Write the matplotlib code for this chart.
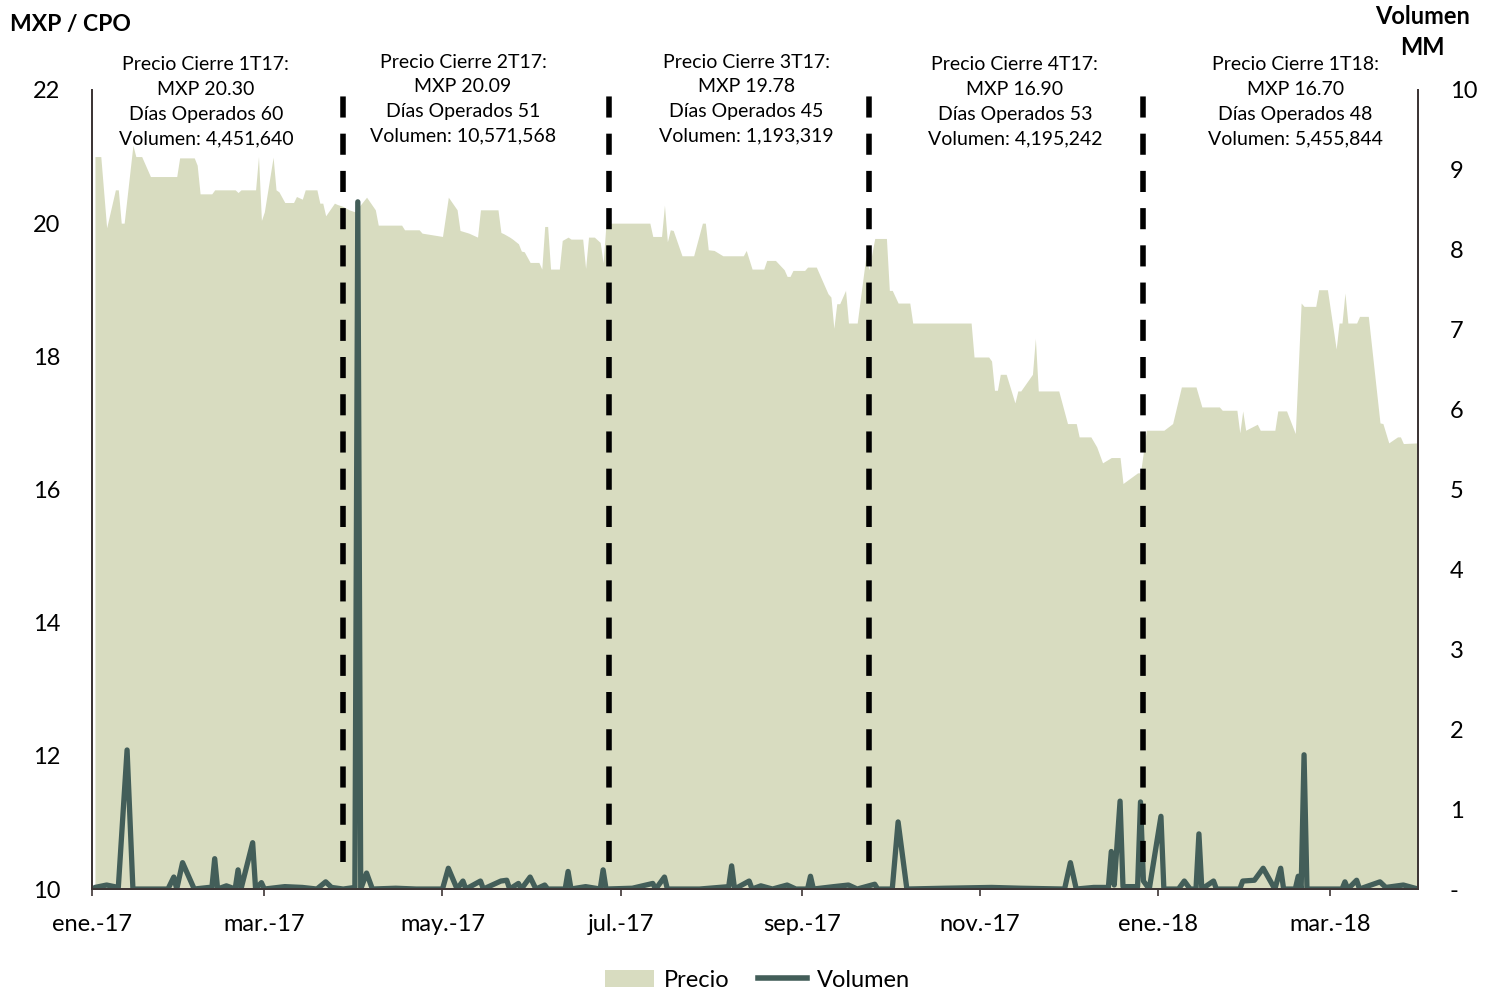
import numpy as np
import pandas as pd
import matplotlib
matplotlib.use("Agg")
import matplotlib.pyplot as plt
from matplotlib.patches import Patch
from matplotlib.lines import Line2D

plt.rcParams['font.family'] = ['Lato', 'DejaVu Sans']

# precio de cierre (MXP / CPO), vertices
price_dates = [
    '2017-01-02', '2017-01-04', '2017-01-06', '2017-01-09', '2017-01-10', '2017-01-11', '2017-01-12',
    '2017-01-15', '2017-01-16', '2017-01-18', '2017-01-21', '2017-01-30', '2017-01-31', '2017-02-05',
    '2017-02-06', '2017-02-07', '2017-02-11', '2017-02-12', '2017-02-19', '2017-02-20', '2017-02-21',
    '2017-02-26', '2017-02-27', '2017-02-28', '2017-03-01', '2017-03-04', '2017-03-05', '2017-03-06',
    '2017-03-08', '2017-03-11', '2017-03-12', '2017-03-14', '2017-03-15', '2017-03-19', '2017-03-20',
    '2017-03-21', '2017-03-22', '2017-03-25', '2017-03-26', '2017-03-28', '2017-03-30', '2017-04-01',
    '2017-04-05', '2017-04-08', '2017-04-09', '2017-04-17', '2017-04-18', '2017-04-23', '2017-04-24',
    '2017-05-01', '2017-05-03', '2017-05-06', '2017-05-07', '2017-05-10', '2017-05-13', '2017-05-14',
    '2017-05-20', '2017-05-21', '2017-05-22', '2017-05-24', '2017-05-25', '2017-05-27', '2017-05-28',
    '2017-05-29', '2017-05-31', '2017-06-03', '2017-06-04', '2017-06-05', '2017-06-06', '2017-06-07',
    '2017-06-10', '2017-06-11', '2017-06-13', '2017-06-14', '2017-06-18', '2017-06-19', '2017-06-20',
    '2017-06-22', '2017-06-24', '2017-06-25', '2017-06-26', '2017-07-11', '2017-07-12', '2017-07-15',
    '2017-07-16', '2017-07-17', '2017-07-18', '2017-07-19', '2017-07-22', '2017-07-26', '2017-07-29',
    '2017-07-30', '2017-07-31', '2017-08-02', '2017-08-05', '2017-08-12', '2017-08-13', '2017-08-15',
    '2017-08-19', '2017-08-20', '2017-08-23', '2017-08-26', '2017-08-27', '2017-08-28', '2017-08-29',
    '2017-09-02', '2017-09-03', '2017-09-06', '2017-09-10', '2017-09-11', '2017-09-12', '2017-09-13',
    '2017-09-14', '2017-09-16', '2017-09-17', '2017-09-20', '2017-09-23', '2017-09-24', '2017-09-26',
    '2017-09-30', '2017-10-01', '2017-10-02', '2017-10-04', '2017-10-08', '2017-10-09', '2017-10-29',
    '2017-10-30', '2017-11-04', '2017-11-05', '2017-11-06', '2017-11-07', '2017-11-08', '2017-11-10',
    '2017-11-13', '2017-11-14', '2017-11-15', '2017-11-19', '2017-11-20', '2017-11-21', '2017-11-28',
    '2017-12-01', '2017-12-04', '2017-12-05', '2017-12-09', '2017-12-11', '2017-12-13', '2017-12-16',
    '2017-12-19', '2017-12-20', '2017-12-25', '2017-12-26', '2017-12-28', '2018-01-03', '2018-01-06',
    '2018-01-09', '2018-01-14', '2018-01-16', '2018-01-22', '2018-01-23', '2018-01-28', '2018-01-29',
    '2018-01-30', '2018-01-31', '2018-02-04', '2018-02-05', '2018-02-10', '2018-02-11', '2018-02-14',
    '2018-02-17', '2018-02-19', '2018-02-20', '2018-02-24', '2018-02-25', '2018-02-28', '2018-03-03',
    '2018-03-04', '2018-03-05', '2018-03-06', '2018-03-07', '2018-03-10', '2018-03-11', '2018-03-14',
    '2018-03-18', '2018-03-19', '2018-03-21', '2018-03-24', '2018-03-25', '2018-03-26', '2018-03-31',
]
price_values = [
    21.00, 21.00, 19.93, 20.50, 20.50, 20.00, 20.00,
    21.17, 21.00, 21.00, 20.70, 20.70, 20.98, 20.98,
    20.87, 20.44, 20.44, 20.50, 20.50, 20.46, 20.50,
    20.50, 21.00, 20.04, 20.17, 20.99, 20.50, 20.47,
    20.31, 20.31, 20.40, 20.36, 20.50, 20.50, 20.30,
    20.30, 20.11, 20.30, 20.28, 20.25, 20.20, 20.17,
    20.39, 20.20, 19.97, 19.97, 19.90, 19.90, 19.85,
    19.80, 20.39, 20.20, 19.89, 19.85, 19.79, 20.20,
    20.20, 19.86, 19.84, 19.79, 19.76, 19.69, 19.58,
    19.57, 19.41, 19.41, 19.31, 19.95, 19.95, 19.31,
    19.31, 19.74, 19.79, 19.76, 19.76, 19.32, 19.79,
    19.79, 19.71, 19.40, 20.00, 20.00, 19.80, 19.80,
    20.27, 19.72, 19.90, 19.89, 19.51, 19.51, 20.00,
    20.00, 19.60, 19.59, 19.51, 19.51, 19.59, 19.31,
    19.31, 19.44, 19.44, 19.30, 19.20, 19.20, 19.29,
    19.29, 19.34, 19.34, 18.94, 18.89, 18.42, 18.79,
    18.79, 18.99, 18.50, 18.50, 19.51, 19.30, 19.77,
    19.77, 18.99, 18.99, 18.80, 18.80, 18.50, 18.50,
    17.99, 17.99, 17.93, 17.49, 17.49, 17.73, 17.73,
    17.30, 17.48, 17.48, 17.73, 18.27, 17.48, 17.48,
    16.99, 16.99, 16.79, 16.79, 16.64, 16.40, 16.48,
    16.48, 16.09, 16.25, 16.25, 16.89, 16.89, 16.99,
    17.54, 17.54, 17.24, 17.24, 17.19, 17.19, 16.85,
    17.18, 16.89, 16.98, 16.89, 16.89, 17.18, 17.18,
    16.84, 18.80, 18.75, 18.75, 19.00, 19.00, 18.11,
    18.50, 18.50, 18.95, 18.50, 18.50, 18.60, 18.60,
    17.00, 16.99, 16.70, 16.79, 16.79, 16.69, 16.70,
]

# volumen operado (millones de CPOs)
vol_dates = [
    '2017-01-02', '2017-01-06', '2017-01-10', '2017-01-13', '2017-01-15', '2017-01-27', '2017-01-29',
    '2017-01-30', '2017-02-01', '2017-02-05', '2017-02-10', '2017-02-11', '2017-02-12', '2017-02-13',
    '2017-02-16', '2017-02-19', '2017-02-20', '2017-02-21', '2017-02-25', '2017-02-26', '2017-02-28',
    '2017-03-01', '2017-03-08', '2017-03-14', '2017-03-19', '2017-03-22', '2017-03-24', '2017-03-28',
    '2017-04-01', '2017-04-02', '2017-04-03', '2017-04-05', '2017-04-07', '2017-04-15', '2017-04-22',
    '2017-05-01', '2017-05-03', '2017-05-06', '2017-05-08', '2017-05-09', '2017-05-14', '2017-05-15',
    '2017-05-21', '2017-05-23', '2017-05-24', '2017-05-27', '2017-05-28', '2017-05-31', '2017-06-02',
    '2017-06-05', '2017-06-06', '2017-06-12', '2017-06-13', '2017-06-14', '2017-06-19', '2017-06-24',
    '2017-06-25', '2017-06-26', '2017-07-05', '2017-07-12', '2017-07-13', '2017-07-16', '2017-07-17',
    '2017-07-28', '2017-08-07', '2017-08-08', '2017-08-09', '2017-08-14', '2017-08-15', '2017-08-18',
    '2017-08-22', '2017-08-27', '2017-08-30', '2017-09-03', '2017-09-04', '2017-09-05', '2017-09-12',
    '2017-09-17', '2017-09-20', '2017-09-26', '2017-09-27', '2017-10-02', '2017-10-04', '2017-10-07',
    '2017-10-20', '2017-11-05', '2017-11-15', '2017-11-30', '2017-12-02', '2017-12-04', '2017-12-10',
    '2017-12-15', '2017-12-16', '2017-12-17', '2017-12-19', '2017-12-20', '2017-12-25', '2017-12-26',
    '2017-12-27', '2017-12-29', '2018-01-02', '2018-01-03', '2018-01-08', '2018-01-10', '2018-01-12',
    '2018-01-14', '2018-01-15', '2018-01-16', '2018-01-20', '2018-01-21', '2018-01-29', '2018-01-30',
    '2018-02-03', '2018-02-06', '2018-02-10', '2018-02-12', '2018-02-13', '2018-02-17', '2018-02-18',
    '2018-02-19', '2018-02-20', '2018-02-21', '2018-03-05', '2018-03-06', '2018-03-07', '2018-03-10',
    '2018-03-11', '2018-03-18', '2018-03-20', '2018-03-26', '2018-03-28', '2018-03-31',
]
vol_values = [
    0.02, 0.05, 0.02, 1.74, 0.00, 0.00, 0.15,
    0.00, 0.33, 0.00, 0.02, 0.00, 0.38, 0.00,
    0.04, 0.00, 0.24, 0.00, 0.58, 0.00, 0.08,
    0.00, 0.03, 0.02, 0.00, 0.09, 0.02, 0.00,
    0.02, 8.60, 0.00, 0.20, 0.00, 0.01, 0.00,
    0.00, 0.26, 0.00, 0.10, 0.00, 0.10, 0.00,
    0.10, 0.11, 0.00, 0.07, 0.00, 0.15, 0.00,
    0.05, 0.00, 0.00, 0.22, 0.00, 0.03, 0.00,
    0.24, 0.00, 0.01, 0.07, 0.00, 0.15, 0.00,
    0.00, 0.03, 0.29, 0.00, 0.10, 0.00, 0.04,
    0.00, 0.05, 0.00, 0.00, 0.16, 0.00, 0.03,
    0.05, 0.00, 0.06, 0.00, 0.00, 0.84, 0.00,
    0.01, 0.02, 0.01, 0.00, 0.33, 0.00, 0.02,
    0.02, 0.47, 0.05, 1.10, 0.03, 0.03, 1.09,
    0.10, 0.00, 0.91, 0.00, 0.00, 0.10, 0.00,
    0.00, 0.69, 0.00, 0.10, 0.00, 0.00, 0.10,
    0.11, 0.26, 0.00, 0.26, 0.00, 0.00, 0.16,
    0.00, 1.68, 0.00, 0.00, 0.09, 0.00, 0.11,
    0.00, 0.09, 0.02, 0.05, 0.03, 0.00,
]

# cortes trimestrales y resumen de cada trimestre
quarter_cuts = ['2017-03-28', '2017-06-27', '2017-09-24', '2017-12-27']
quarter_centers = ['2017-02-09', '2017-05-08', '2017-08-13', '2017-11-13', '2018-02-17']
quarter_labels = [
    'Precio Cierre 1T17:\nMXP 20.30\nDías Operados 60\nVolumen: 4,451,640',
    'Precio Cierre 2T17:\nMXP 20.09\nDías Operados 51\nVolumen: 10,571,568',
    'Precio Cierre 3T17:\nMXP 19.78\nDías Operados 45\nVolumen: 1,193,319',
    'Precio Cierre 4T17:\nMXP 16.90\nDías Operados 53\nVolumen: 4,195,242',
    'Precio Cierre 1T18:\nMXP 16.70\nDías Operados 48\nVolumen: 5,455,844',
]
quarter_text_y = [21.82, 21.86, 21.86, 21.82, 21.82]

tick_dates = ['2017-01-01', '2017-03-01', '2017-05-01', '2017-07-01', '2017-09-01',
              '2017-11-01', '2018-01-01', '2018-03-01']
tick_labels = ['ene.-17', 'mar.-17', 'may.-17', 'jul.-17', 'sep.-17', 'nov.-17', 'ene.-18', 'mar.-18']

area_color = '#d8dcc0'
line_color = '#435e59'
spine_color = '#3d3535'

fig = plt.figure(figsize=(14.94, 9.93), dpi=100)
ax = fig.add_axes([0.0616, 0.1047, 0.8875, 0.8047])
ax2 = ax.twinx()

pd_price = pd.to_datetime(price_dates)
pd_vol = pd.to_datetime(vol_dates)

ax.fill_between(pd_price, price_values, 10, color=area_color, lw=0)
ax.set_ylim(10, 22)
ax.set_yticks(np.arange(10, 23, 2))
ax.set_xlim(pd.Timestamp('2017-01-01'), pd.Timestamp('2018-03-31'))
ax.set_xticks(pd.to_datetime(tick_dates))
ax.set_xticklabels(tick_labels)

ax2.plot(pd_vol, vol_values, color=line_color, lw=3.8, solid_joinstyle='round',
         solid_capstyle='round')
ax2.set_ylim(0, 10)
ax2.set_yticks(np.arange(0, 11, 1))
ax2.set_yticklabels(['-'] + [str(i) for i in range(1, 11)])

for d in quarter_cuts:
    ax2.plot([pd.Timestamp(d)] * 2, [0.34, 9.97], color='black', lw=4,
             linestyle=(0, (3.8, 2.9)), dash_capstyle='butt')

for d, txt, yy in zip(quarter_centers, quarter_labels, quarter_text_y):
    ax.text(pd.Timestamp(d), yy, txt, ha='center', va='center', fontsize=14,
            linespacing=1.55, clip_on=False, zorder=5)

for a in (ax, ax2):
    a.spines['top'].set_visible(False)
    for s in ('left', 'right', 'bottom'):
        a.spines[s].set_color(spine_color)
        a.spines[s].set_linewidth(1.3)
ax.tick_params(axis='y', length=0, labelsize=17, pad=23)
ax2.tick_params(axis='y', length=0, labelsize=17, pad=23)
ax.tick_params(axis='x', length=5, width=1.2, color=spine_color, labelsize=17, pad=13)

fig.text(0.007, 0.975, 'MXP / CPO', fontsize=16.5, fontweight='bold', ha='left', va='center')
fig.text(0.952, 0.968, 'Volumen\nMM', fontsize=17, fontweight='bold', ha='center', va='center',
         linespacing=1.45)

handles = [Patch(facecolor=area_color, edgecolor='none'),
           Line2D([0], [0], color=line_color, lw=4)]
fig.legend(handles, ['Precio', 'Volumen'], loc='center', bbox_to_anchor=(0.507, 0.013),
           ncol=2, frameon=False, fontsize=17, handlelength=2.1, columnspacing=1.2,
           handletextpad=0.4)

fig.savefig('out.png', dpi=100)
